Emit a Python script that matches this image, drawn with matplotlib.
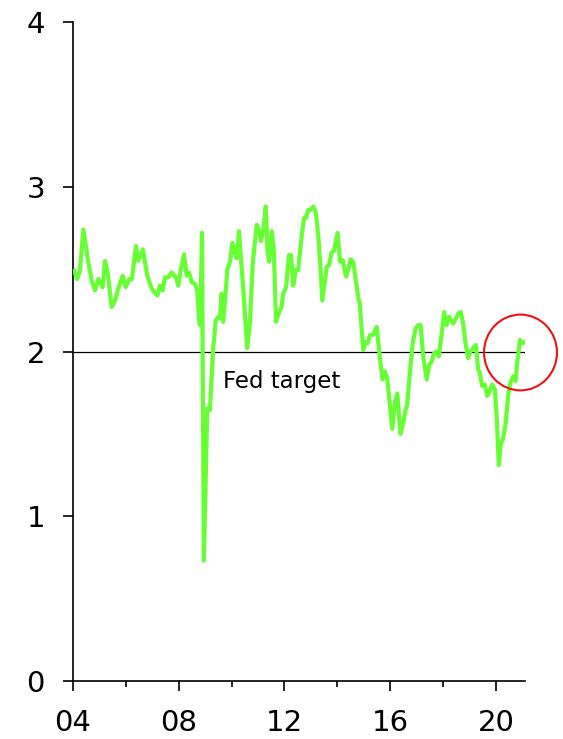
import matplotlib
matplotlib.use("Agg")
import matplotlib.pyplot as plt
from matplotlib.patches import Ellipse
from matplotlib.ticker import FixedLocator

# ---- data (decimal years, values) ----
years = [
    2004.04, 2004.16, 2004.26, 2004.39, 2004.58, 2004.71, 2004.83, 2004.96,
    2005.12, 2005.21, 2005.31, 2005.46, 2005.59, 2005.71, 2005.88, 2005.99,
    2006.13, 2006.23, 2006.38, 2006.47, 2006.64, 2006.81, 2006.98,
    2007.19, 2007.29, 2007.39, 2007.48, 2007.60, 2007.73, 2007.90, 2007.98,
    2008.07, 2008.20, 2008.30, 2008.39, 2008.49, 2008.61, 2008.70, 2008.78,
    2008.81, 2008.88, 2008.95,
    2009.08, 2009.18, 2009.30, 2009.40, 2009.50, 2009.56, 2009.62, 2009.68,
    2009.75, 2009.84, 2009.94,
    2010.03, 2010.13, 2010.19, 2010.28, 2010.38, 2010.47, 2010.59, 2010.69,
    2010.80, 2010.95,
    2011.05, 2011.11, 2011.20, 2011.29, 2011.36, 2011.42, 2011.52, 2011.60,
    2011.68, 2011.80, 2011.89, 2011.95,
    2012.06, 2012.17, 2012.25, 2012.33, 2012.43, 2012.52, 2012.65, 2012.74,
    2012.81, 2012.90, 2012.99,
    2013.09, 2013.19, 2013.28, 2013.37, 2013.43, 2013.53, 2013.60, 2013.69,
    2013.78, 2013.87,
    2014.01, 2014.10, 2014.20, 2014.33, 2014.41, 2014.50, 2014.60, 2014.70,
    2014.79, 2014.85, 2014.98,
    2015.07, 2015.15, 2015.23, 2015.34, 2015.49, 2015.61, 2015.71, 2015.80,
    2015.89, 2015.99,
    2016.08, 2016.18, 2016.27, 2016.39, 2016.49, 2016.58, 2016.64, 2016.75,
    2016.85, 2016.96,
    2017.06, 2017.15, 2017.25, 2017.38, 2017.48, 2017.57, 2017.66, 2017.76,
    2017.84, 2017.91, 2017.98,
    2018.04, 2018.13, 2018.22, 2018.30, 2018.38, 2018.49, 2018.57, 2018.67,
    2018.76, 2018.85, 2018.95,
    2019.04, 2019.14, 2019.24, 2019.33, 2019.39, 2019.48, 2019.58, 2019.67,
    2019.77, 2019.86, 2019.96,
    2020.03, 2020.11, 2020.19, 2020.27, 2020.37, 2020.46, 2020.55, 2020.65,
    2020.74, 2020.82, 2020.91,
    2021.01, 2021.11,
]
values = [
    2.49, 2.44, 2.49, 2.74, 2.54, 2.43, 2.37, 2.44,
    2.39, 2.55, 2.48, 2.27, 2.31, 2.38, 2.46, 2.39,
    2.44, 2.44, 2.64, 2.55, 2.62, 2.46, 2.38,
    2.34, 2.40, 2.37, 2.45, 2.45, 2.48, 2.45, 2.40,
    2.49, 2.59, 2.46, 2.48, 2.42, 2.41, 2.37, 2.17,
    2.16, 2.72, 0.73,
    1.655, 1.645, 2.01, 2.19, 2.21, 2.20, 2.35, 2.18,
    2.31, 2.50, 2.545,
    2.66, 2.60, 2.565, 2.73, 2.51, 2.31, 2.02, 2.17,
    2.535, 2.77,
    2.73, 2.67, 2.74, 2.88, 2.61, 2.545, 2.73, 2.60,
    2.18, 2.24, 2.27, 2.35,
    2.39, 2.585, 2.585, 2.40, 2.495, 2.495, 2.70, 2.81,
    2.81, 2.86, 2.86,
    2.88, 2.84, 2.70, 2.495, 2.31, 2.43, 2.515, 2.525,
    2.60, 2.61,
    2.72, 2.545, 2.555, 2.455, 2.495, 2.56, 2.545, 2.43,
    2.33, 2.29, 2.01,
    2.06, 2.05, 2.10, 2.10, 2.15, 1.96, 1.83, 1.88,
    1.83, 1.675,
    1.53, 1.695, 1.745, 1.50, 1.565, 1.645, 1.675, 1.88,
    2.05, 2.14,
    2.16, 2.16, 1.97, 1.83, 1.92, 1.94, 1.99, 2.00,
    1.97, 2.06, 2.15,
    2.24, 2.16, 2.21, 2.19, 2.17, 2.20, 2.23, 2.24,
    2.17, 2.05, 1.96,
    2.00, 2.02, 2.04, 1.89, 1.87, 1.79, 1.80, 1.73,
    1.76, 1.80, 1.77,
    1.60, 1.31, 1.44, 1.47, 1.565, 1.73, 1.81, 1.85,
    1.82, 1.95, 2.07,
    2.05, 2.06,
]
fed_target = 2.0
fed_label = "Fed target"
x_major = [2004, 2008, 2012, 2016, 2020]
x_major_labels = ["04", "08", "12", "16", "20"]
x_minor = [2006, 2010, 2014, 2018]
y_ticks = [0, 1, 2, 3, 4]
y_tick_labels = ["0", "1", "2", "3", "4"]

plt.rcParams['font.family'] = ['DejaVu Sans']

fig = plt.figure(figsize=(5.63, 7.39), dpi=100)
ax = fig.add_axes([0.1297, 0.0785, 0.8028, 0.8917])

ax.plot(years, values, color='#66ff33', lw=3.0, solid_joinstyle='round', zorder=3)
ax.axhline(fed_target, color='black', lw=0.9, zorder=2)
ax.text(2009.68, 1.778, fed_label, fontsize=16.5, color='black', ha='left', va='baseline')

circ = Ellipse((2020.93, 1.994), width=2.76, height=0.46, fill=False,
               edgecolor='#ee1111', lw=1.5, clip_on=False, zorder=4)
ax.add_patch(circ)

ax.set_xlim(2004, 2021.1)
ax.set_ylim(0, 4)

for s in ['top', 'right']:
    ax.spines[s].set_visible(False)
for s in ['left', 'bottom']:
    ax.spines[s].set_linewidth(1.2)

ax.xaxis.set_major_locator(FixedLocator(x_major))
ax.set_xticklabels(x_major_labels)
ax.xaxis.set_minor_locator(FixedLocator(x_minor))
ax.set_yticks(y_ticks)
ax.set_yticklabels(y_tick_labels)

ax.tick_params(axis='both', which='major', direction='out', length=7.2, width=1.2,
               labelsize=21, pad=13)
ax.tick_params(axis='x', which='minor', direction='out', length=4.3, width=1.2)

fig.savefig('out.png', dpi=100)
